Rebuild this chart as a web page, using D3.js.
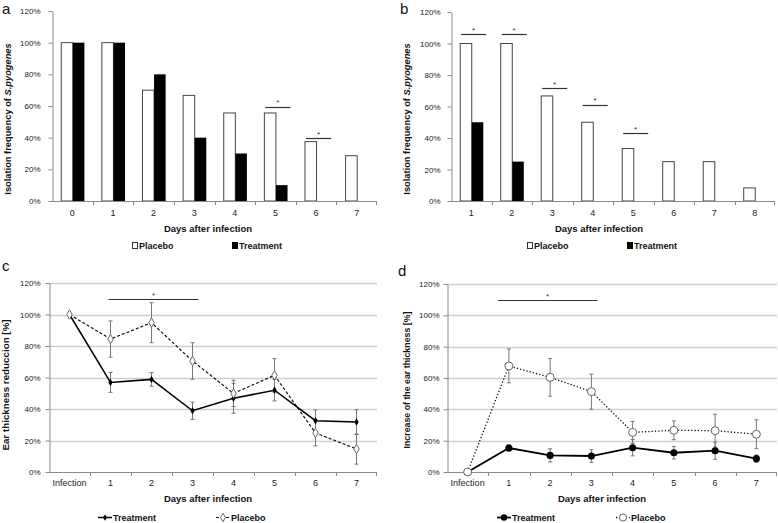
<!DOCTYPE html>
<html><head><meta charset="utf-8">
<script src="https://cdn.jsdelivr.net/npm/d3@7"></script>
<style>
html,body{margin:0;padding:0;background:#fff;}
svg text{font-family:"Liberation Sans",Arial,sans-serif;}
</style></head>
<body>
<svg id="chart" width="778" height="523"></svg>
<script>
// ---------- DATA ----------
const barDaysA = ["0","1","2","3","4","5","6","7"];
const placeboA = [100,100,70,66.7,55.6,55.6,37.5,28.6];
const treatmentA = [100,100,80,40,30,10,0,0];
const sigDaysA = ["5","6"];
const sigLevelsA = [59.4,39.6];

const barDaysB = ["1","2","3","4","5","6","7","8"];
const placeboB = [100,100,66.7,50,33.3,25,25,8.3];
const treatmentB = [50,25,0,0,0,0,0,0];
const sigDaysB = ["1","2","3","4","5"];
const sigLevelsB = [105.8,105.8,71.5,61,43];

const lineDays = ["Infection","1","2","3","4","5","6","7"];
const treatC = [100,56.9,58.8,38.9,46.8,51.9,32.6,31.7];
const treatCErr = [0,6.3,4.3,5.5,9.5,6.8,6.8,7.9];
const placeboC = [100,84.4,94.8,70.5,49.9,61.4,24.8,14.6];
const placeboCErr = [0,11.5,12.7,11.6,8.3,10.6,8.2,9.6];

const treatD = [0,15.3,10.6,10.2,15.5,12.3,13.6,8.5];
const treatDErr = [0,2.1,4.2,4.0,5.2,4.0,5.5,2.3];
const placeboD = [0,67.7,60.4,51.3,25.3,26.6,26.4,24.1];
const placeboDErr = [0,10.8,12.0,11.2,7.0,6.0,10.5,9.2];

const yTicks = [0,20,40,60,80,100,120];
const sigSpanC = ["1","3"];
const sigLevelC = 110;
const sigSpanD = ["1","3"];
const sigLevelD = 110;

// ---------- DRAW ----------
const svg = d3.select("#chart");
const AXIS = "#8a8a8a";

function yAxis(g, y, left, pad, fs){
  const ax = g.append("g").attr("transform",`translate(${left},0)`)
    .call(d3.axisLeft(y).tickValues(yTicks).tickSize(4).tickSizeOuter(0).tickPadding(pad).tickFormat(d=>d+"%"));
  ax.select(".domain").attr("stroke",AXIS);
  ax.selectAll(".tick line").attr("stroke",AXIS);
  ax.selectAll(".tick text").attr("fill","#222").style("font-size",fs+"px").style("font-family",'"Liberation Sans",Arial,sans-serif');
}

function xAxis(g, x, cats, bottom, labelY, fs){
  const [l,r] = x.range();
  g.append("line").attr("x1",l).attr("x2",r).attr("y1",bottom+0.5).attr("y2",bottom+0.5).attr("stroke",AXIS);
  g.selectAll(".bt").data(cats.slice(1).concat(["__end"])).join("line")
    .attr("x1",d=> d==="__end"? r-0.5 : Math.round(x(d))+0.5)
    .attr("x2",d=> d==="__end"? r-0.5 : Math.round(x(d))+0.5)
    .attr("y1",bottom).attr("y2",bottom+4).attr("stroke",AXIS);
  g.selectAll(".xl").data(cats).join("text")
    .attr("x",d=>x(d)+x.bandwidth()/2).attr("y",labelY)
    .attr("text-anchor","middle").attr("fill","#222").style("font-size",fs+"px").text(d=>d);
}

function barPanel(o){
  const g = svg.append("g");
  const x = d3.scaleBand().domain(o.cats).range([o.left,o.right]);
  const y = d3.scaleLinear().domain([0,120]).range([o.bottom,o.top]);
  const bw = x.bandwidth(), w = bw*0.285;
  const rows = o.cats.map((c,i)=>({c,p:o.placebo[i],t:o.treatment[i]}));
  g.selectAll(".pb").data(rows).join("rect")
    .attr("x",d=>x(d.c)+bw/2-w+0.5).attr("width",w)
    .attr("y",d=>y(d.p)).attr("height",d=>y(0)-y(d.p))
    .attr("fill","#fff").attr("stroke","#444").attr("stroke-width",1);
  g.selectAll(".tb").data(rows.filter(d=>d.t>0)).join("rect")
    .attr("x",d=>x(d.c)+bw/2+0.5).attr("width",w)
    .attr("y",d=>y(d.t)).attr("height",d=>y(0)-y(d.t))
    .attr("fill","#000");
  yAxis(g,y,o.left+0.5,o.ypad,8);
  xAxis(g,x,o.cats,o.bottom,o.bottom+15,9);
  // significance
  const sig = o.sigDays.map((c,i)=>({c,v:o.sigLevels[i]}));
  g.selectAll(".sl").data(sig).join("line")
    .attr("x1",d=>x(d.c)+bw*0.25).attr("x2",d=>x(d.c)+bw*0.87)
    .attr("y1",d=>Math.round(y(d.v))+0.5).attr("y2",d=>Math.round(y(d.v))+0.5)
    .attr("stroke","#333").attr("stroke-width",1.2);
  g.selectAll(".ss").data(sig).join("text")
    .attr("x",d=>x(d.c)+bw*0.56).attr("y",d=>y(d.v)-1.5)
    .attr("text-anchor","middle").style("font-size","8px").attr("fill","#333").text("*");
  // titles
  g.append("text").attr("x",o.titleX).attr("y",o.bottom+31).attr("text-anchor","middle")
    .style("font-size","9.5px").style("font-weight","bold").attr("fill","#111").text("Days after infection");
  const yt = g.append("text").attr("transform",`translate(${o.ytX},${o.ytY}) rotate(-90)`)
    .attr("text-anchor","middle").style("font-size","9.3px").style("font-weight","bold").attr("fill","#111");
  yt.append("tspan").text("Isolation frequency of ");
  yt.append("tspan").style("font-style","italic").text("S.pyogenes");
  // legend
  const ly = o.bottom+48;
  g.append("rect").attr("x",o.legP+0.5).attr("y",ly-6.5).attr("width",5).attr("height",6).attr("fill","#fff").attr("stroke","#333");
  g.append("text").attr("x",o.legP+7).attr("y",ly).style("font-size","9px").style("font-weight","bold").attr("fill","#111").text("Placebo");
  g.append("rect").attr("x",o.legT).attr("y",ly-7).attr("width",6).attr("height",7).attr("fill","#000");
  g.append("text").attr("x",o.legT+7).attr("y",ly).style("font-size","9px").style("font-weight","bold").attr("fill","#111").text("Treatment");
  // panel label
  g.append("text").attr("x",o.labX).attr("y",o.labY).style("font-size","15px").attr("fill","#111").text(o.label);
}

function linePanel(o){
  const g = svg.append("g");
  const x = d3.scaleBand().domain(o.cats).range([o.left,o.right]);
  const y = d3.scaleLinear().domain([0,120]).range([o.bottom,o.top]);
  const cx = c=>x(c)+x.bandwidth()/2;
  // grid
  g.selectAll(".gr").data(yTicks.filter(v=>v>0)).join("line")
    .attr("x1",o.left).attr("x2",o.right).attr("y1",v=>Math.round(y(v))+0.5).attr("y2",v=>Math.round(y(v))+0.5)
    .attr("stroke","#cfcfcf").attr("stroke-width",1.5);
  yAxis(g,y,o.left+0.5,o.ypad,8);
  xAxis(g,x,o.cats,o.bottom,o.bottom+14,9);
  const T = o.cats.map((c,i)=>({c,v:o.treat[i],e:o.treatErr[i]}));
  const P = o.cats.map((c,i)=>({c,v:o.placebo[i],e:o.placeboErr[i]}));
  const line = d3.line().x(d=>cx(d.c)).y(d=>y(d.v));
  function errs(data){
    const eg = g.append("g").attr("stroke","#777").attr("stroke-width",1);
    const ed = data.filter(d=>d.e>0);
    eg.selectAll(".ev").data(ed).join("line").attr("x1",d=>cx(d.c)).attr("x2",d=>cx(d.c)).attr("y1",d=>y(d.v-d.e)).attr("y2",d=>y(d.v+d.e));
    eg.selectAll(".et").data(ed).join("line").attr("x1",d=>cx(d.c)-2).attr("x2",d=>cx(d.c)+2).attr("y1",d=>y(d.v+d.e)).attr("y2",d=>y(d.v+d.e));
    eg.selectAll(".eb").data(ed).join("line").attr("x1",d=>cx(d.c)-2).attr("x2",d=>cx(d.c)+2).attr("y1",d=>y(d.v-d.e)).attr("y2",d=>y(d.v-d.e));
  }
  errs(P); errs(T);
  g.append("path").datum(P).attr("d",line).attr("fill","none").attr("stroke","#111").attr("stroke-width",o.pWidth).attr("stroke-dasharray",o.pDash);
  g.append("path").datum(T).attr("d",line).attr("fill","none").attr("stroke","#000").attr("stroke-width",o.tWidth);
  const tSym = d3.symbol().type(o.shape).size(o.tSize);
  const pSym = d3.symbol().type(o.shape).size(o.pSize);
  g.selectAll(".tm").data(T).join("path").attr("d",tSym).attr("transform",d=>`translate(${cx(d.c)},${y(d.v)})`).attr("fill","#000");
  g.selectAll(".pm").data(P).join("path").attr("d",pSym).attr("transform",d=>`translate(${cx(d.c)},${y(d.v)})`).attr("fill","#fff").attr("stroke","#666").attr("stroke-width",1);
  // significance
  const sy = Math.round(y(o.sigLevel))+0.5;
  const sx1 = cx(o.sigSpan[0])+o.sigOff[0], sx2 = cx(o.sigSpan[1])+o.sigOff[1];
  g.append("line").attr("x1",sx1).attr("x2",sx2).attr("y1",sy).attr("y2",sy).attr("stroke","#333").attr("stroke-width",1.2);
  g.append("text").attr("x",(sx1+sx2)/2).attr("y",sy-1.5).attr("text-anchor","middle").style("font-size","8px").attr("fill","#333").text("*");
  // titles
  g.append("text").attr("x",o.titleX).attr("y",o.bottom+30).attr("text-anchor","middle")
    .style("font-size","9.5px").style("font-weight","bold").attr("fill","#111").text("Days after infection");
  g.append("text").attr("transform",`translate(${o.ytX},${o.ytY}) rotate(-90)`)
    .attr("text-anchor","middle").style("font-size",o.ytFs+"px").style("font-weight","bold").attr("fill","#111").text(o.ytitle);
  // legend
  const ly = o.bottom+49;
  g.append("line").attr("x1",o.legT).attr("x2",o.legT+14).attr("y1",ly-3.5).attr("y2",ly-3.5).attr("stroke","#000").attr("stroke-width",o.tWidth);
  g.append("path").attr("d",d3.symbol().type(o.shape).size(o.tSize*0.8)).attr("transform",`translate(${o.legT+7},${ly-3.5})`).attr("fill","#000");
  g.append("text").attr("x",o.legT+15).attr("y",ly).style("font-size","9px").style("font-weight","bold").attr("fill","#111").text("Treatment");
  g.append("line").attr("x1",o.legP).attr("x2",o.legP+14).attr("y1",ly-3.5).attr("y2",ly-3.5).attr("stroke","#111").attr("stroke-width",o.pWidth).attr("stroke-dasharray",o.pDash);
  g.append("path").attr("d",d3.symbol().type(o.shape).size(o.pSize*0.8)).attr("transform",`translate(${o.legP+7},${ly-3.5})`).attr("fill","#fff").attr("stroke","#666");
  g.append("text").attr("x",o.legP+15).attr("y",ly).style("font-size","9px").style("font-weight","bold").attr("fill","#111").text("Placebo");
  g.append("text").attr("x",o.labX).attr("y",o.labY).style("font-size","15px").attr("fill","#111").text(o.label);
}

barPanel({cats:barDaysA,placebo:placeboA,treatment:treatmentA,sigDays:sigDaysA,sigLevels:sigLevelsA,
  left:52,right:377,top:11,bottom:201,ypad:8,titleX:208,ytX:11,ytY:119,legP:132,legT:232,label:"a",labX:2,labY:14});
barPanel({cats:barDaysB,placebo:placeboB,treatment:treatmentB,sigDays:sigDaysB,sigLevels:sigLevelsB,
  left:451,right:775,top:12,bottom:201,ypad:7,titleX:599,ytX:410,ytY:119,legP:527,legT:627,label:"b",labX:400,labY:14});
linePanel({cats:lineDays,treat:treatC,treatErr:treatCErr,placebo:placeboC,placeboErr:placeboCErr,
  left:49,right:377,top:283,bottom:472,ypad:5,titleX:208,ytX:9,ytY:385,ytFs:9.8,ytitle:"Ear thickness reduccion [%]",
  shape:d3.symbolDiamond,tSize:16,pSize:26,tWidth:1.5,pWidth:1.2,pDash:"3,2",
  sigSpan:sigSpanC,sigLevel:sigLevelC,sigOff:[-2,6],legT:98,legP:216,label:"c",labX:2,labY:271});
linePanel({cats:lineDays,treat:treatD,treatErr:treatDErr,placebo:placeboD,placeboErr:placeboDErr,
  left:447,right:777,top:284,bottom:472,ypad:4,titleX:602,ytX:410,ytY:380,ytFs:8.8,ytitle:"Increase of the ear thickness [%]",
  shape:d3.symbolCircle,tSize:40,pSize:50,tWidth:1.8,pWidth:1.3,pDash:"1.3,2",
  sigSpan:sigSpanD,sigLevel:sigLevelD,sigOff:[-11,6],legT:497,legP:616,label:"d",labX:398,labY:276});
</script>
</body></html>
